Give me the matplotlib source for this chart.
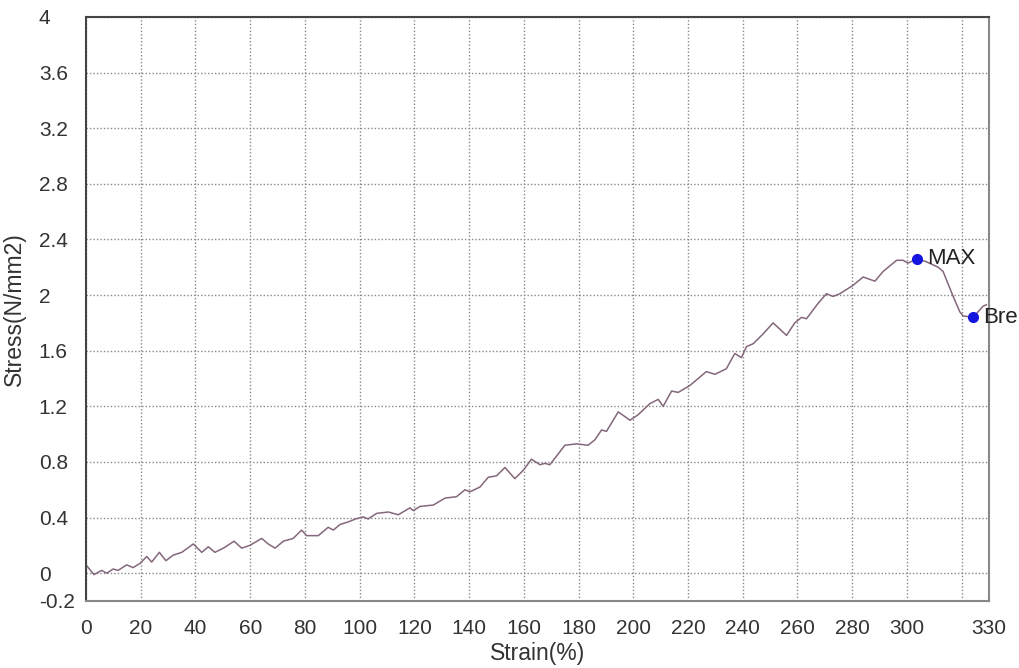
import numpy as np
import matplotlib
matplotlib.use("Agg")
import matplotlib.pyplot as plt

plt.rcParams['font.family'] = ['Liberation Sans', 'DejaVu Sans']

# curve
strain = [0, 2.9, 5.7, 7.6, 9.9, 11.7, 14.9, 17.2, 19.7, 22.2,
          24, 26.8, 29.2, 31.9, 35, 39.2, 42.3, 44.7, 47.1, 50.2,
          54.1, 56.9, 59.9, 64.2, 66.6, 69.1, 72.1, 75.7, 78.8, 80.6,
          84.9, 88.5, 90.4, 92.8, 96, 98.5, 101.3, 103.1, 106.2, 110.5,
          114.1, 118.4, 119.6, 122, 126.9, 131.2, 135.4, 138.5, 140.3, 144,
          147, 150, 153.1, 156.7, 159.8, 162.8, 165.9, 167.7, 169.5, 175,
          179.3, 183.5, 186, 188.4, 190.2, 194.5, 198.8, 201.8, 206.1, 209.1,
          210.9, 214, 216.4, 220.7, 226.7, 229.8, 234, 237.1, 239.5, 241.4,
          243.8, 247.4, 251.1, 256, 259, 261.5, 263.3, 267.5, 270.6, 273,
          275.5, 280.3, 284, 288.3, 291.3, 296.2, 298.6, 300.4, 303.5, 307.1,
          311.4, 313.2, 316.9, 319.3, 320.5, 324.2, 327.8, 329]
stress = [0.06, -0.01, 0.02, 0.0, 0.03, 0.02, 0.06, 0.04, 0.07, 0.12,
          0.08, 0.15, 0.09, 0.13, 0.15, 0.21, 0.15, 0.19, 0.15, 0.18,
          0.23, 0.18, 0.2, 0.25, 0.21, 0.18, 0.23, 0.25, 0.31, 0.27,
          0.27, 0.33, 0.31, 0.35, 0.37, 0.39, 0.405, 0.39, 0.43, 0.44,
          0.42, 0.47, 0.45, 0.48, 0.49, 0.54, 0.55, 0.60, 0.585, 0.62,
          0.69, 0.70, 0.76, 0.68, 0.74, 0.82, 0.78, 0.79, 0.78, 0.92,
          0.93, 0.92, 0.96, 1.03, 1.02, 1.16, 1.10, 1.14, 1.22, 1.25,
          1.20, 1.31, 1.30, 1.35, 1.45, 1.43, 1.47, 1.58, 1.55, 1.63,
          1.65, 1.72, 1.80, 1.71, 1.80, 1.84, 1.83, 1.94, 2.01, 1.99,
          2.01, 2.07, 2.13, 2.10, 2.17, 2.25, 2.25, 2.23, 2.26, 2.24,
          2.20, 2.17, 1.99, 1.88, 1.85, 1.84, 1.92, 1.93]

point_names = ['MAX', 'Bre']
point_x = [303.5, 324.2]
point_y = [2.26, 1.84]

xticks = [0, 20, 40, 60, 80, 100, 120, 140, 160, 180, 200, 220, 240, 260, 280, 300, 320, 330]
xlabels = ['0', '20', '40', '60', '80', '100', '120', '140', '160', '180', '200',
           '220', '240', '260', '280', '300', '', '330']
yticks = [-0.2, 0, 0.4, 0.8, 1.2, 1.6, 2, 2.4, 2.8, 3.2, 3.6, 4]
ylabels = ['-0.2', '0', '0.4', '0.8', '1.2', '1.6', '2', '2.4', '2.8', '3.2', '3.6', '4']

fig = plt.figure(figsize=(10.19, 6.68), dpi=100)
ax = fig.add_axes([0.0844, 0.1003, 0.8862, 0.8743])

ax.plot(strain, stress, color='#84677c', lw=1.1)
ax.plot(point_x, point_y, 'o', color='#1515e0', markersize=7, zorder=5)
for name, px, py in zip(point_names, point_x, point_y):
    ax.text(px + 3.8, py, name, fontsize=16, va='center', ha='left', color='#222222', clip_on=False)

ax.set_xlim(0, 330)
ax.set_ylim(-0.2, 4)
ax.set_xticks(xticks)
ax.set_xticklabels(xlabels)
ax.set_yticks(yticks)
ax.set_yticklabels(ylabels)
for lbl in ax.get_yticklabels():
    lbl.set_ha('left')
ax.tick_params(axis='y', length=0, pad=34, labelsize=15, labelcolor='#333333')
ax.tick_params(axis='x', length=0, pad=13, labelsize=15, labelcolor='#333333')

ax.grid(True, linestyle=(0, (1, 1.5)), color='#888888', lw=1.0)
for side in ['left', 'top']:
    ax.spines[side].set_color('#444444')
    ax.spines[side].set_linewidth(1.5)
for side in ['right', 'bottom']:
    ax.spines[side].set_color('#888888')
    ax.spines[side].set_linewidth(1.5)

ax.set_ylabel('Stress(N/mm2)', fontsize=16.5, color='#333333')
ax.yaxis.set_label_coords(-0.066, 0.5)
ax.set_xlabel('Strain(%)', fontsize=16.5, color='#333333', labelpad=3)

plt.savefig('out.png', dpi=100)
